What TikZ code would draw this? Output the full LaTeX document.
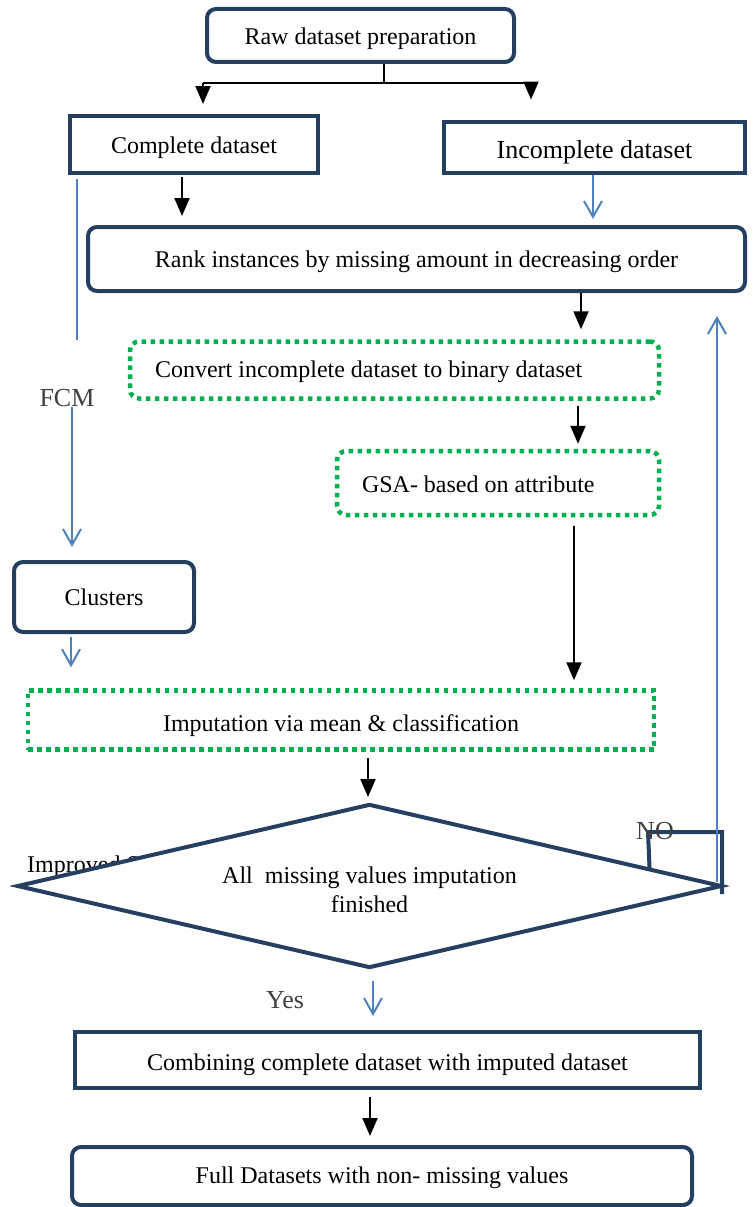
\documentclass[tikz,border=0pt]{standalone}
\usepackage{fontspec}
\setmainfont{Liberation Serif}
\usetikzlibrary{arrows.meta,shapes.geometric,calc}
\definecolor{navy}{HTML}{243F60}
\definecolor{grn}{HTML}{00B050}
\definecolor{wblue}{HTML}{4F81BD}
\definecolor{lbl}{HTML}{404040}
\begin{document}
\begin{tikzpicture}[x=1pt,y=-1pt,
  every node/.style={font=\fontsize{24}{29}\selectfont, inner sep=0pt},
  tb/.style={text height=#1, text depth=0pt},
  rbox/.style={draw=navy, line width=4pt, rounded corners=9pt, fill=white, align=center},
  sbox/.style={draw=navy, line width=4pt, fill=white, align=center},
  gbox/.style={draw=grn, line width=4.5pt, dash pattern=on 4.5pt off 4.5pt},
  blk/.style={black, line width=2pt, -{Triangle[length=18pt,width=15pt]}},
  blkline/.style={black, line width=2pt},
  blu/.style={wblue, line width=2pt, -{Straight Barb[length=16pt,width=18pt]}},
  bluline/.style={wblue, line width=2pt},
  loopl/.style={navy, line width=4pt},
  lab/.style={text=lbl, font=\fontsize{26}{30}\selectfont}]
\useasboundingbox (0,0) rectangle (755,1207);

% boxes
\node[rbox, tb=19pt, minimum width=307pt, minimum height=53pt] (raw) at (360.5,35.5) {Raw dataset preparation};
\node[sbox, tb=17pt, minimum width=248pt, minimum height=57pt] (comp) at (194,144.5) {Complete dataset};
\node[sbox, tb=22pt, minimum width=301pt, minimum height=51pt, font=\fontsize{26}{30}\selectfont] (inc) at (594.5,147) {Incomplete dataset};
\node[rbox, tb=16pt, minimum width=657pt, minimum height=64pt] (rank) at (416.5,259) {Rank instances by missing amount in decreasing order};
\node[gbox, tb=14pt, rounded corners=9pt, text width=479pt, inner xsep=25pt, minimum height=57pt, align=flush left] (conv) at (394.5,370) {Convert incomplete dataset to binary dataset};
\node[gbox, tb=18pt, rounded corners=9pt, text width=272pt, inner xsep=25pt, minimum height=64pt, align=flush left] (gsa) at (498,483) {GSA- based on attribute};
\node[rbox, tb=16pt, minimum width=180pt, minimum height=70pt] (clus) at (104,597) {Clusters};
\node[gbox, tb=22pt, minimum width=626pt, minimum height=59pt] (imp) at (341,720) {Imputation via mean \& classification};
\node[anchor=base west] (impr) at (27,872) {Improved S};
\node[diamond, draw=navy, line width=4pt, fill=white, minimum width=705pt, minimum height=164pt, aspect=4.3, align=center, text height=52pt, text depth=0pt] (dec) at (369.5,886) {All~ missing values imputation\\finished};
\node[sbox, tb=20pt, minimum width=625pt, minimum height=56pt] (comb) at (387.5,1060) {Combining complete dataset with imputed dataset};
\node[rbox, tb=14pt, minimum width=620pt, minimum height=58pt] (full) at (382,1176) {Full Datasets with non- missing values};

% labels
\node[lab] (fcm) at (67,398) {FCM};
\node[lab] (yes) at (285,1000) {Yes};

% named positions
\coordinate (br) at (384,83);
\coordinate (bl) at (203,83);
\coordinate (brr) at (531,83);
\coordinate (x182) at (182,0);
\coordinate (x593) at (593,0);
\coordinate (x581) at (581,0);
\coordinate (x578) at (578,0);
\coordinate (x574) at (574,0);
\coordinate (x77) at (77,0);
\coordinate (x72) at (72,0);
\coordinate (x71) at (71,0);
\coordinate (x368) at (368,0);
\coordinate (x373) at (373,0);
\coordinate (x370) at (370,0);
\coordinate (fcmtop) at (77,340);
\coordinate (nl) at (648,832);
\coordinate (nr) at (722,832);
\coordinate (nb) at (722,894);
\coordinate (ub) at (717,882);

% branch
\draw[blkline] (raw.south -| br) -- (br);
\draw[blkline] (bl) -- (brr);
\draw[blk, shorten >=10pt] (bl) -- (bl |- comp.north);
\draw[blk, shorten >=20pt] (brr) -- (brr |- inc.north);

% main flow
\draw[blk, shorten <=2pt, shorten >=9pt] (comp.south -| x182) -- (rank.north -| x182);
\draw[blu, shorten >=6pt] (inc.south -| x593) -- (rank.north -| x593);
\draw[blk, shorten >=10pt] (rank.south -| x581) -- (conv.north -| x581);
\draw[blk, shorten <=5pt, shorten >=5pt] (conv.south -| x578) -- (gsa.north -| x578);
\draw[blk, shorten <=9pt, shorten >=8pt] (gsa.south -| x574) -- (imp.north -| x574);
\draw[bluline, shorten <=4pt] (comp.south -| x77) -- (fcmtop);
\draw[blu, shorten >=13pt] (fcm.south -| x72) -- (clus.north -| x72);
\draw[blu, shorten <=3pt, shorten >=21pt] (clus.south -| x71) -- (imp.north -| x71);
\draw[blk, shorten <=6pt, shorten >=5pt] (imp.south -| x368) -- (dec.north -| x368);
\draw[blu, shorten <=11pt, shorten >=14pt] (dec.south -| x373) -- (comb.north -| x373);
\draw[blk, shorten <=7pt, shorten >=9pt] (comb.south -| x370) -- (full.north -| x370);

% NO loop
\draw[loopl] ($(dec.north)!0.79!(dec.east)$) -- (nl) -- (nr) -- (nb);
\node[lab] (no) at (655,831) {NO};
\draw[blu, shorten >=23pt] (ub) -- (ub |- rank.south);
\end{tikzpicture}
\end{document}
